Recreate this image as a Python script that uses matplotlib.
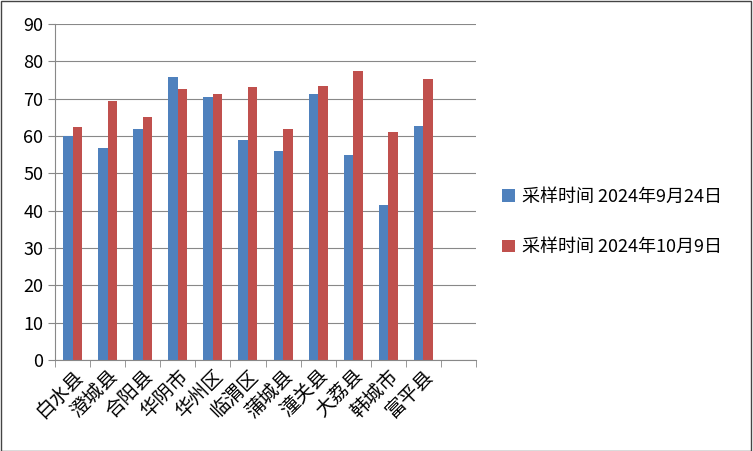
import matplotlib
matplotlib.use("Agg")
import matplotlib.pyplot as plt
import numpy as np

plt.rcParams['font.family'] = ['Noto Sans CJK SC', 'DejaVu Sans']

categories = ["白水县","澄城县","合阳县","华阴市","华州区","临渭区","蒲城县","潼关县","大荔县","韩城市","富平县",""]
s1 = [60.0,56.7,61.8,75.7,70.5,58.8,56.0,71.3,55.0,41.5,62.8,np.nan]
s2 = [62.5,69.5,65.2,72.7,71.3,73.0,62.0,73.5,77.5,61.2,75.3,np.nan]
labels = ["采样时间 2024年9月24日","采样时间 2024年10月9日"]

fig = plt.figure(figsize=(7.53,4.51), dpi=100)
ax = fig.add_axes([55/753, 1-360/451, 421/753, 336/451])
x = np.arange(len(categories))
w = 0.27
b1 = ax.bar(x-w/2, s1, w, color="#4F81BD", label=labels[0])
b2 = ax.bar(x+w/2, s2, w, color="#C0504D", label=labels[1])
ax.set_xlim(-0.5, len(categories)-0.5)
ax.set_ylim(0,90)
ax.set_yticks(range(0,91,10))
ax.yaxis.grid(True, color="#888888", lw=0.8)
ax.set_axisbelow(True)
ax.set_xticks(np.arange(len(categories)+1)-0.5, minor=True)
ax.set_xticks(x)
ax.set_xticklabels(categories, rotation=45, ha="right", rotation_mode="anchor", fontsize=14)
ax.tick_params(axis='x', which='major', length=0, pad=4)
ax.tick_params(axis='x', which='minor', length=5, color="#888888")
ax.tick_params(axis='y', labelsize=13, length=5, color="#888888")
for s in ["top","right"]:
    ax.spines[s].set_visible(False)
for s in ["left","bottom"]:
    ax.spines[s].set_color("#888888")
fig.legend(handles=[b1,b2], labels=labels, loc="center left", bbox_to_anchor=(486/753, 1-222/451),
           frameon=False, fontsize=13, labelspacing=1.8, handlelength=0.7, handleheight=0.7, handletextpad=0.4)
fig.patches.append(plt.Rectangle((0.001,0.001),0.997,0.997, transform=fig.transFigure, fill=False, ec="#444444", lw=1))
fig.savefig("out.png", dpi=100)
